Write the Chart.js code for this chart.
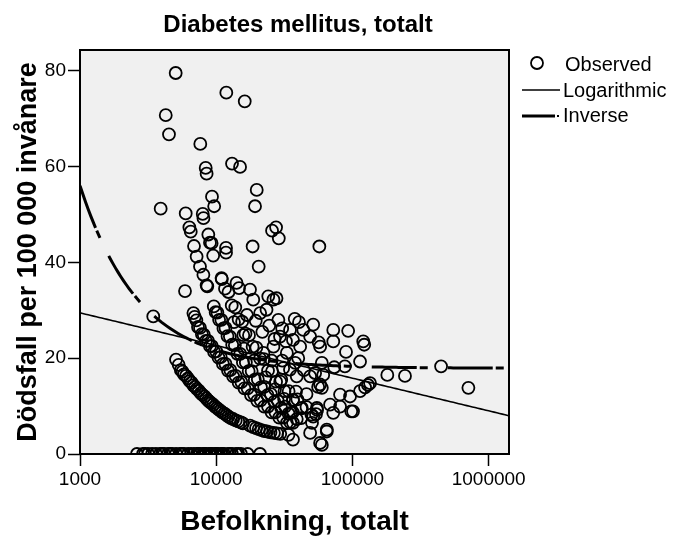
<!DOCTYPE html>
<html>
<head>
<meta charset="utf-8">
<script src="https://cdn.jsdelivr.net/npm/chart.js@4"></script>
<style>
  html, body { margin: 0; padding: 0; background: #fff; }
</style>
</head>
<body>
<canvas id="myChart" width="679" height="539"></canvas>
<script>
// --- Texts ---
const chartTitle = "Diabetes mellitus, totalt";
const xTitle = "Befolkning, totalt";
const yTitle = "Dödsfall per 100 000 invånare";
const legendLabels = ["Observed", "Logarithmic", "Inverse"];

// --- Axes ---
const xTicks = [1000, 10000, 100000, 1000000];
const yTicks = [0, 20, 40, 60, 80];
const xRange = [1000, 1410000];
const yRange = [0, 84.3];

// --- Observed municipalities (population, deaths per 100 000) ---
const population = [
  // rate 0
  2620, 2900, 3000, 3160, 3380, 3610, 3870, 4000, 4140, 4430, 4600, 4740, 5070, 5420,
  5600, 5800, 6210, 6530, 6870, 7230, 7400, 7600, 8000, 8200, 8420, 8850, 9100, 9320,
  9800, 10000, 10300, 10850, 11100, 11400, 12200, 12600, 13060, 13980, 14500, 15200,
  17000, 20970,
  // one death band
  5070, 5300, 5500, 5650, 5800, 6000, 6200, 6400, 6600, 6800, 7000, 7200, 7450, 7700,
  7900, 8200, 8450, 8700, 8950, 9200, 9500, 9800, 10100, 10400, 10750, 11100, 11500,
  11900, 12300, 12800, 13300, 13900, 14500, 15200, 15700,
  17700, 18700, 19600, 20500, 21500, 22500, 23600, 25000, 26500, 28000, 29500,
  // two deaths band
  6800, 6950, 7150, 7350, 7600, 7850, 8100, 8400, 8700, 9000, 9300, 9650, 10000, 10400,
  10800, 11200, 11700, 12200, 12700, 13300, 13900, 14600, 15300, 16100, 17000, 18000,
  19000, 20000, 21200, 22500, 24000, 25500, 27200, 29000, 31000, 33000, 35000,
  // three deaths band
  9600, 9900, 10200, 10500, 10900, 11300, 11700, 12100, 12600, 13100, 13700, 14300,
  15000, 15700, 16500, 17300, 18200, 19200, 20200, 21300, 22500, 23800, 25200, 26700,
  28300, 30000, 32000, 34000, 36500, 39000, 42000,
  // four deaths band
  11000, 11600, 12300, 13000, 13800, 14600, 15500, 16400, 17400, 18500, 19700, 21000,
  22400, 24000, 25700, 27500, 29500, 31700, 34000, 36600, 39400, 42500, 46000, 50000, 54000,
  // middle scatter
  13500, 15800, 16800, 19500, 21800, 24500, 26800, 30500, 32500, 19000, 23000, 27000,
  30000, 16000, 38000, 44000, 42000, 38500, 31500, 25500,
  // upper scatter
  5040, 11860, 16190, 4260, 4500, 7640, 8370, 8500, 13060, 14960, 19830, 19270, 9310,
  9660, 3910, 5970, 7960, 8060, 6350, 6500, 8750, 9000, 6870, 11800, 18500, 25700, 27500,
  28800, 57150, 20500, 5900, 11800, 9500, 7180, 7600, 8050, 8600, 10940, 14100, 14700,
  17700, 24100, 27700, 3450, 8500, 9250,
  // larger municipalities
  23400, 21000, 18700, 26300, 28600, 29400, 26300, 22200, 33000, 31000, 34800, 36600,
  37700, 40500, 43600, 41300, 48900, 51500, 57900, 56500, 72300, 93000, 120000, 122000,
  89700, 72300, 88000, 113700, 73500, 59600, 53200, 61000, 57900, 59600, 134600, 123800,
  113700, 96000, 81100, 55000, 51500, 68500, 81100, 98000, 72300, 50500, 48900, 64800,
  59600, 36600, 36600, 35500, 36600, 34800, 39000, 48900, 56000, 57900, 33900, 130000,
  30500, 40000, 46000, 54800, 101000, 64800,
  180300, 243000, 447300, 709800
];
const deathRate = [
  // rate 0
  0, 0, 0, 0, 0, 0, 0, 0, 0, 0, 0, 0, 0, 0,
  0, 0, 0, 0, 0, 0, 0, 0, 0, 0, 0, 0, 0, 0,
  0, 0, 0, 0, 0, 0, 0, 0, 0, 0, 0, 0,
  0, 0,
  // one death band
  19.7, 18.6, 17.5, 17.2, 16.6, 16.3, 15.8, 15.2, 14.9, 14.3, 14.0, 13.6, 13.2, 12.7,
  12.4, 12.0, 11.6, 11.2, 10.9, 10.6, 10.3, 9.9, 9.6, 9.3, 9.0, 8.7, 8.4,
  8.1, 7.8, 7.5, 7.3, 7.0, 6.8, 6.6, 6.4,
  5.9, 5.6, 5.4, 5.2, 5.0, 4.8, 4.7, 4.5, 4.4, 4.3, 4.2,
  // two deaths band
  29.4, 28.6, 27.9, 26.5, 26.3, 25.0, 24.9, 23.6, 23.6, 22.5, 22.5, 21.3, 21.4, 20.1,
  20.2, 18.8, 18.8, 17.4, 17.5, 16.2, 16.3, 14.9, 15.0, 13.7, 13.7, 12.3,
  12.4, 11.1, 11.2, 9.9, 9.9, 8.7, 8.7, 7.6, 7.6, 6.5, 6.6,
  // three deaths band
  30.8, 29.6, 29.5, 28.0, 28.0, 26.2, 26.3, 24.6, 24.5, 22.8, 22.7, 20.9,
  20.9, 19.1, 19.1, 17.3, 17.3, 15.5, 15.6, 13.9, 14.0, 12.3, 12.5, 10.9,
  11.1, 9.6, 9.9, 8.4, 8.7, 7.3, 7.5,
  // four deaths band
  36.5, 34.5, 33.8, 31.0, 30.6, 28.1, 27.6, 25.1, 24.8, 22.4, 22.2, 19.9,
  19.8, 17.4, 17.3, 15.1, 15.1, 13.1, 13.1, 11.2, 11.4, 9.6, 9.8, 8.2, 8.3,
  // middle scatter
  27.5, 24.8, 29.0, 27.8, 25.5, 26.8, 24.0, 26.2, 23.5, 19.5, 16.0, 13.5,
  15.5, 22.0, 19.0, 17.5, 9.5, 13.0, 11.5, 19.5,
  // upper scatter
  79.5, 75.4, 73.6, 70.7, 66.7, 64.7, 59.7, 58.5, 60.6, 59.9, 55.1, 51.7, 53.7,
  51.7, 51.2, 50.2, 50.1, 49.2, 47.3, 46.4, 45.8, 44.1, 43.4, 43.0, 43.3, 46.6, 47.3,
  45.0, 43.3, 39.1, 34.0, 42.0, 41.4, 41.2, 39.1, 37.4, 35.0, 36.7, 35.7, 34.6,
  34.3, 32.9, 32.5, 28.7, 35.2, 44.0,
  // larger municipalities
  30.1, 29.4, 32.2, 32.2, 28.0, 24.5, 22.4, 21.1, 21.1, 17.9, 25.9, 23.8,
  28.2, 27.5, 25.9, 22.4, 24.5, 27.0, 22.4, 23.3, 25.9, 25.7, 23.5, 22.8,
  21.3, 23.5, 18.3, 19.3, 18.1, 19.0, 16.9, 16.5, 14.5, 13.8, 14.8, 13.9,
  13.1, 12.0, 12.4, 9.2, 7.8, 10.3, 9.9, 8.9, 8.6, 6.5, 4.4, 4.7,
  1.9, 3.0, 11.3, 8.6, 6.5, 17.6, 16.2, 16.2, 14.0, 2.3, 4.0, 14.4,
  19.5, 20.0, 12.5, 9.6, 8.9, 5.1,
  16.5, 16.3, 18.3, 13.8
];

// --- Fitted curves (curve estimation) ---
const logFit = { a: 49.9, b: -2.96 };   // y = a + b*ln(x)
const invFit = { a: 17.9, b: 38100 };   // y = a + b/x

const fontFamily = "'Liberation Sans', Arial, sans-serif";

// x positions where the fitted curves are evaluated
let fitX = [];
for (let e = Math.log10(xRange[0]); e < Math.log10(xRange[1]); e += 0.02) {
  fitX.push(Math.pow(10, e));
}
fitX.push(xRange[1]);

const observed = population.map((p, i) => ({ x: p, y: deathRate[i] }));
const logLine = fitX.map((x) => ({ x: x, y: logFit.a + logFit.b * Math.log(x) }));
const invLine = fitX.map((x) => ({ x: x, y: invFit.a + invFit.b / x }));

// --- Plugin: plot background, frame, title and legend ---
const spssDecor = {
  id: "spssDecor",
  beforeDraw(chart) {
    const { ctx, chartArea: a } = chart;
    ctx.save();
    ctx.fillStyle = "#fff";
    ctx.fillRect(0, 0, chart.width, chart.height);
    ctx.fillStyle = "#f0f0f0";
    ctx.fillRect(a.left, a.top, a.right - a.left, a.bottom - a.top);
    ctx.restore();
  },
  afterDraw(chart) {
    const { ctx, chartArea: a } = chart;
    ctx.save();
    ctx.strokeStyle = "#000";
    ctx.lineWidth = 2;
    ctx.strokeRect(a.left, a.top, a.right - a.left, a.bottom - a.top);

    // title
    ctx.fillStyle = "#000";
    ctx.textAlign = "center";
    ctx.textBaseline = "middle";
    ctx.font = "bold 24px " + fontFamily;
    ctx.fillText(chartTitle, 298, 25);

    // legend
    ctx.textAlign = "left";
    ctx.font = "20px " + fontFamily;
    ctx.lineWidth = 1.8;
    ctx.beginPath();
    ctx.arc(537, 63, 6, 0, Math.PI * 2);
    ctx.stroke();
    ctx.fillText(legendLabels[0], 565, 65);

    ctx.lineWidth = 1.6;
    ctx.beginPath();
    ctx.moveTo(522, 90);
    ctx.lineTo(560, 90);
    ctx.stroke();
    ctx.fillText(legendLabels[1], 563, 91);

    ctx.lineWidth = 3;
    ctx.beginPath();
    ctx.moveTo(522, 116);
    ctx.lineTo(555, 116);
    ctx.stroke();
    ctx.fillRect(557, 115, 2, 2);
    ctx.fillText(legendLabels[2], 563, 116);
    ctx.restore();
  },
};

const ctx = document.getElementById("myChart").getContext("2d");
new Chart(ctx, {
  type: "scatter",
  data: {
    datasets: [
      {
        label: legendLabels[1],
        type: "line",
        data: logLine,
        borderColor: "#000",
        borderWidth: 1.6,
        pointRadius: 0,
        fill: false,
        order: 0,
        clip: 0,
      },
      {
        label: legendLabels[2],
        type: "line",
        data: invLine,
        borderColor: "#000",
        borderWidth: 3,
        borderDash: [45, 3, 8, 20],
        pointRadius: 0,
        fill: false,
        order: 0,
        clip: 0,
      },
      {
        label: legendLabels[0],
        data: observed,
        pointStyle: "circle",
        pointRadius: 6,
        pointBorderWidth: 1.8,
        pointBorderColor: "#000",
        pointBackgroundColor: "rgba(0,0,0,0)",
        order: 1,
        clip: 0,
      },
    ],
  },
  options: {
    responsive: false,
    animation: false,
    devicePixelRatio: 1,
    layout: { padding: { left: 0, top: 50, right: 170, bottom: 0 } },
    plugins: {
      legend: { display: false },
      title: { display: false },
      tooltip: { enabled: false },
    },
    scales: {
      x: {
        type: "logarithmic",
        min: xRange[0],
        max: xRange[1],
        afterBuildTicks: (s) => {
          s.ticks = xTicks.map((v) => ({ value: v }));
        },
        afterFit: (s) => {
          s.height = 85;
        },
        ticks: {
          callback: (v) => String(v),
          color: "#000",
          font: { family: fontFamily, size: 19 },
          padding: 2,
          maxRotation: 0,
          autoSkip: false,
        },
        grid: {
          drawOnChartArea: false,
          drawTicks: true,
          tickLength: 12,
          tickColor: "#000",
          tickWidth: 1.5,
        },
        border: { display: false },
        title: {
          display: true,
          text: xTitle,
          color: "#000",
          font: { family: fontFamily, size: 28, weight: "bold" },
          padding: { top: 0, bottom: 0 },
        },
      },
      y: {
        min: yRange[0],
        max: yRange[1],
        afterBuildTicks: (s) => {
          s.ticks = yTicks.map((v) => ({ value: v }));
        },
        afterFit: (s) => {
          s.width = 80;
        },
        ticks: {
          color: "#000",
          font: { family: fontFamily, size: 19 },
          padding: 2,
        },
        grid: {
          drawOnChartArea: false,
          drawTicks: true,
          tickLength: 12,
          tickColor: "#000",
          tickWidth: 1.5,
        },
        border: { display: false },
        title: {
          display: true,
          text: yTitle,
          color: "#000",
          font: { family: fontFamily, size: 27, weight: "bold" },
          padding: { top: 12, bottom: 0 },
        },
      },
    },
  },
  plugins: [spssDecor],
});
</script>
</body>
</html>
